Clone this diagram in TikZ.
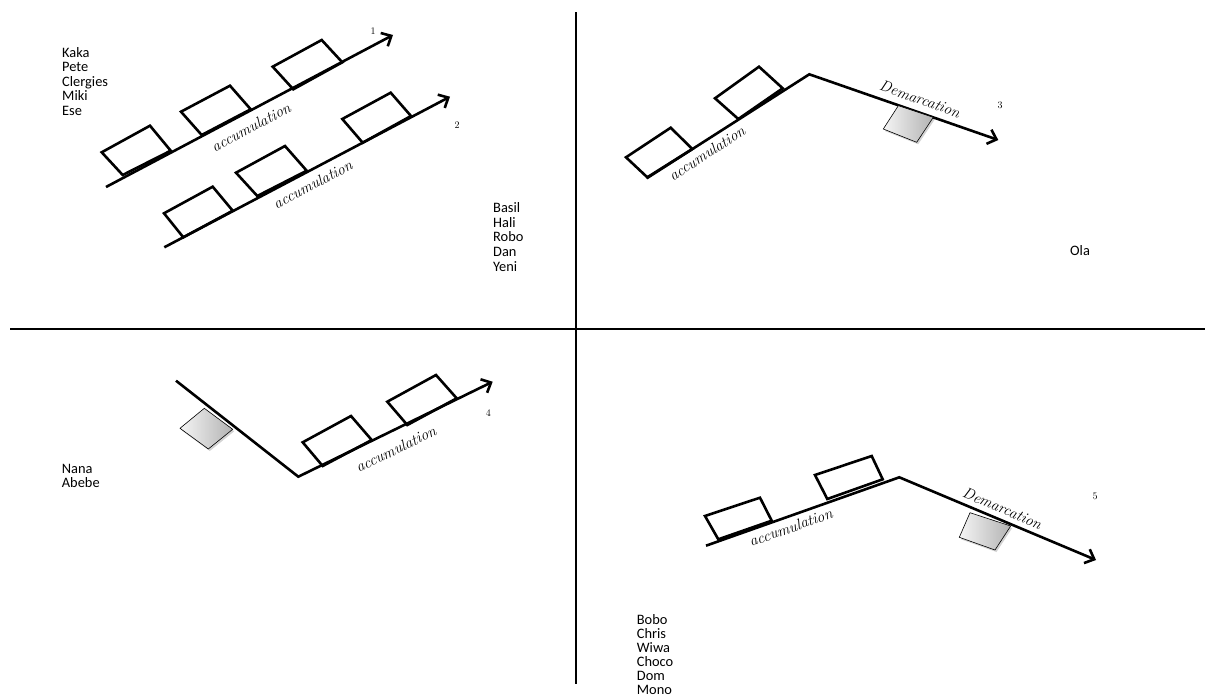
\documentclass[tikz,border=0pt]{standalone}
\usepackage{fontspec}
\newfontfamily\namefont{Carlito}
\usetikzlibrary{arrows.meta,shadows}
\tikzset{
  mainline/.style={line width=2.6pt, line cap=butt, line join=miter},
  arr/.style={mainline, -{Straight Barb[length=8pt,width=15pt,line width=2.6pt]}},
  pkg/.style={line width=2.6pt, line join=miter},
  gbox/.style={draw=black, line width=0.6pt, left color=gray!8, right color=gray!60,
    drop shadow={opacity=0.35, shadow xshift=1.5pt, shadow yshift=-2pt}},
  lbl/.style={font=\fontsize{15.5}{15.5}\selectfont\itshape, inner sep=0pt},
  nm/.style={font=\namefont\fontsize{14.4}{14.6}\selectfont, anchor=base west, inner sep=0pt},
  num/.style={font=\fontsize{10}{10}\selectfont, inner sep=0pt}
}
\begin{document}
\begin{tikzpicture}[x=1pt,y=-1pt]
\useasboundingbox (0,0) rectangle (1208,696);
% axes
\coordinate (vt) at (576,12);
\coordinate (vb) at (576,684);
\coordinate (hl) at (10,329);
\coordinate (hr) at (1205,329);
\draw[mainline] (vt) -- (vb);
\draw[mainline] (hl) -- (hr);

% ---------- panel 1 ----------
\coordinate (a1s) at (106,187);
\coordinate (a1e) at (393,35);
\draw[arr] (a1s) -- (a1e);
\draw[pkg] (101.7,152.3) -- (150,125.7) -- (170.7,150.7) -- (122.7,175) -- cycle;
\draw[pkg] (181,111.7) -- (230,85.7) -- (250.7,109.3) -- (201.7,135) -- cycle;
\draw[pkg] (272.7,66.7) -- (321.7,40) -- (342.3,62.3) -- (293.3,89.3) -- cycle;
\node[lbl, rotate=28] (acc1) at (251,127) {accumulation};
\node[num] (n1) at (373,31) {1};

\coordinate (a2s) at (164.3,247.3);
\coordinate (a2e) at (450,96.7);
\draw[arr] (a2s) -- (a2e);
\draw[pkg] (164,213.3) -- (212.7,186.7) -- (232.7,210.7) -- (183.3,237.3) -- cycle;
\draw[pkg] (236,172.7) -- (285,146) -- (306.7,170.7) -- (257.3,196) -- cycle;
\draw[pkg] (342.3,119) -- (390.7,92.7) -- (411,116) -- (362.7,142.7) -- cycle;
\node[lbl, rotate=28] (acc2) at (312.7,184.3) {accumulation};
\node[num] (n2) at (457,125) {2};

\foreach \t [count=\i from 0] in {Kaka,Pete,Clergies,Miki,Ese}
  \node[nm] (k\i) at (62,57+14.6*\i) {\t};
\foreach \t [count=\i from 0] in {Basil,Hali,Robo,Dan,Yeni}
  \node[nm] (b\i) at (493,212.3+14.75*\i) {\t};

% ---------- panel 3 ----------
\coordinate (p3s) at (646.7,178.3);
\coordinate (p3m) at (809.3,74.3);
\coordinate (p3e) at (998.3,140);
\draw[arr] (p3s) -- (p3m) -- (p3e);
\draw[pkg] (626,157.3) -- (670.7,127.7) -- (692.3,149) -- (647.3,177.3) -- cycle;
\draw[pkg] (715,98.3) -- (759,66.7) -- (782.7,88.3) -- (738.3,119) -- cycle;
\draw[gbox] (883.3,129) -- (898.3,105.7) -- (933.3,117.3) -- (916.7,142.3) -- cycle;
\node[lbl, rotate=33] (acc3) at (706.7,153.3) {accumulation};
\node[lbl, rotate=-19.5] (dem3) at (920,99) {Demarcation};
\node[num] (n3) at (1000,105) {3};
\node[nm] (ola) at (1070,255) {Ola};

% ---------- panel 4 ----------
\coordinate (p4s) at (176,380.7);
\coordinate (p4m) at (298.3,476.7);
\coordinate (p4e) at (492.7,381.7);
\draw[arr] (p4s) -- (p4m) -- (p4e);
\draw[pkg] (302.7,442.3) -- (351,416) -- (371.7,440) -- (322.7,466) -- cycle;
\draw[pkg] (387.3,401.7) -- (436,375) -- (456.7,398.3) -- (407.3,425) -- cycle;
\draw[gbox] (180,428.3) -- (204.3,408.3) -- (232.7,429.3) -- (208.3,449) -- cycle;
\node[lbl, rotate=26] (acc4) at (395.7,449) {accumulation};
\node[num] (n4) at (488.3,412.7) {4};
\foreach \t [count=\i from 0] in {Nana,Abebe}
  \node[nm] (na\i) at (61.7,473.3+14*\i) {\t};

% ---------- panel 5 ----------
\coordinate (p5s) at (706,545.7);
\coordinate (p5m) at (899.3,477.3);
\coordinate (p5e) at (1096,560);
\draw[arr] (p5s) -- (p5m) -- (p5e);
\draw[pkg] (705,516) -- (760,497.7) -- (771.7,520.7) -- (718.3,539.3) -- cycle;
\draw[pkg] (815,475) -- (871.7,456) -- (882.7,479.3) -- (827.3,499) -- cycle;
\draw[gbox] (959.3,537.3) -- (970,512.7) -- (1010.7,526) -- (995,550) -- cycle;
\node[lbl, rotate=19.5] (acc5) at (790.7,527.3) {accumulation};
\node[lbl, rotate=-22.8] (dem5) at (1002.3,508.3) {Demarcation};
\node[num] (n5) at (1095,496.7) {5};
\foreach \t [count=\i from 0] in {Bobo,Chris,Wiwa,Choco,Dom,Mono}
  \node[nm] (bo\i) at (636.7,624+14.1*\i) {\t};
\end{tikzpicture}
\end{document}
